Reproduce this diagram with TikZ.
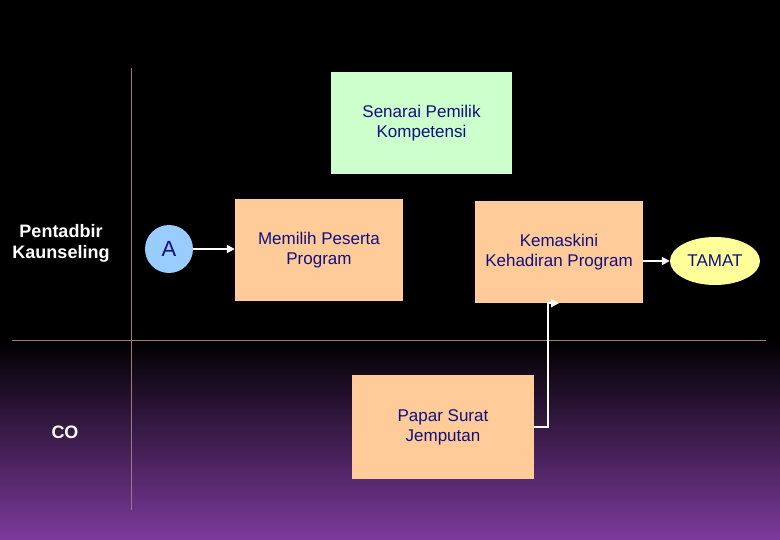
\documentclass[tikz,border=0pt]{standalone}
\usepackage{fontspec}
\setmainfont{Liberation Sans}
\usetikzlibrary{positioning}
\usetikzlibrary{arrows.meta}
\usetikzlibrary{shapes.geometric}

\definecolor{peach}{HTML}{FFCC99}
\definecolor{mint}{HTML}{CCFFCC}
\definecolor{sky}{HTML}{99CCFF}
\definecolor{lemon}{HTML}{FFFF99}
\definecolor{navy}{HTML}{10107F}
\definecolor{lane}{HTML}{9C7A80}
\definecolor{plum}{HTML}{7C3A9C}

\begin{document}
\begin{tikzpicture}[x=1pt, y=-1pt,
  kotak/.style={fill=peach, minimum width=168pt, minimum height=102pt, inner sep=0pt,
    align=center, text=navy, font=\fontsize{17}{20}\selectfont},
  anak/.style={-{Triangle[length=8pt,width=8pt]}, white, line width=2.5pt},
  peranan/.style={white, align=center, font=\fontsize{18}{21}\selectfont\bfseries}]
  \useasboundingbox (0, 0) rectangle (780, 540);

  % latar
  \fill[black] (0, 0) rectangle (780, 341);
  \shade[top color=black, bottom color=plum] (0, 340) rectangle (780, 540);

  % lorong
  \draw[lane, line width=1pt] (131, 68) -- (131, 510);
  \draw[lane, line width=1pt] (12, 341) -- (766, 341);

  \node[peranan] (pentadbir) at (61, 243) {Pentadbir\\Kaunseling};
  \node[peranan] (co) at (65, 432) {CO};

  \node[kotak, fill=mint, minimum width=181pt] (senarai) at (421.5, 123) {Senarai Pemilik\\Kompetensi};
  \node[circle, fill=sky, minimum size=48pt, inner sep=0pt, text=navy,
    font=\fontsize{22}{22}\selectfont] (A) at (169, 249) {A};
  \node[kotak] (memilih) at (319, 250) {Memilih Peserta\\Program};
  \node[kotak] (kemaskini) at (559, 252) {Kemaskini\\Kehadiran Program};
  \node[kotak, minimum width=182pt, minimum height=104pt] (papar) at (443, 427) {Papar Surat\\Jemputan};
  \node[ellipse, fill=lemon, minimum width=90pt, minimum height=48pt, inner sep=0pt,
    text=navy, font=\fontsize{17}{17}\selectfont] (tamat) at (715, 261) {TAMAT};

  \draw[anak] (A.east) -- (A.east -| memilih.west);
  \draw[anak] (tamat.west -| kemaskini.east) -- (tamat.west);
  \draw[anak] (papar.east) -| ([xshift=-11pt]kemaskini.south) -- (kemaskini.south);
\end{tikzpicture}
\end{document}
